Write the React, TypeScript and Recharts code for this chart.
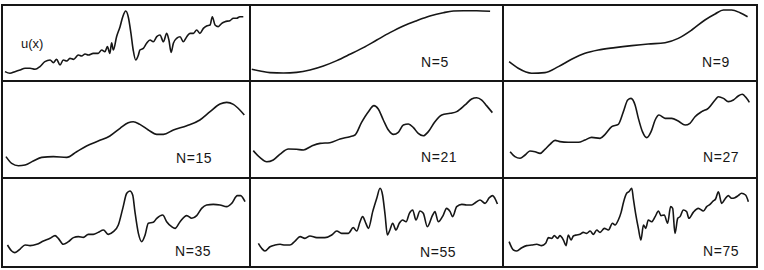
import React from 'react';
import { LineChart, Line, XAxis, YAxis } from 'recharts';

// each curve: [x (0-100 across the domain), u (0-100 within the panel)]
const exactU: [number, number][] = [
  [1.2, 12.3], [3.2, 10.1], [5.2, 12.3], [7.3, 14.5], [9.3, 16.7], [11.3, 16.7], [13.3, 15.4], [15.3, 18.9],
  [17.3, 25.4], [19.4, 27.6], [20.7, 24.1], [22.0, 28.5], [23.4, 21.1], [24.7, 27.6], [26.1, 26.3], [27.4, 29.8],
  [28.8, 28.5], [30.8, 34.2], [32.1, 32.9], [33.5, 35.5], [34.8, 34.2], [36.8, 36.4], [38.8, 36.4], [40.2, 40.8],
  [41.5, 38.6], [42.5, 45.2], [43.5, 36.4], [44.2, 50.4], [44.9, 40.8], [46.2, 58.3], [47.6, 71.5], [48.7, 84.6],
  [49.9, 92.1], [50.9, 84.6], [52.0, 62.7], [52.9, 40.8], [53.9, 27.6], [55.0, 34.2], [55.6, 40.8], [57.0, 43.0],
  [58.3, 49.6], [59.7, 53.9], [61.0, 51.7], [62.4, 58.3], [63.7, 60.5], [65.1, 51.7], [66.4, 62.7], [67.3, 53.9],
  [68.2, 37.7], [69.1, 49.6], [70.4, 56.1], [71.8, 58.3], [73.1, 51.7], [74.5, 58.3], [75.8, 62.7], [77.2, 62.7],
  [78.5, 67.1], [79.8, 62.7], [81.2, 69.3], [82.5, 72.4], [83.9, 73.7], [84.8, 84.6], [85.9, 73.7], [87.2, 71.5],
  [88.6, 75.9], [89.9, 78.1], [91.9, 79.4], [93.3, 82.5], [94.6, 82.5], [95.9, 84.6], [97.3, 84.6],
];

const n5: [number, number][] = [
  [0.7, 15.4], [4.0, 13.2], [7.9, 11.0], [13.2, 10.5], [18.4, 11.4], [23.7, 14.5], [29.0, 19.7], [34.3, 26.8],
  [39.5, 35.1], [44.8, 43.9], [50.1, 53.9], [55.3, 63.6], [60.6, 72.4], [65.9, 79.4], [71.1, 85.5], [76.4, 89.9],
  [80.4, 92.1], [84.3, 92.5], [89.6, 92.5], [94.9, 91.7],
];

const n9: [number, number][] = [
  [2.4, 25.4], [6.0, 16.7], [11.3, 10.1], [16.5, 11.0], [21.8, 18.9], [27.0, 28.5], [32.3, 36.4], [37.5, 40.8],
  [44.1, 43.9], [50.7, 46.5], [57.2, 48.7], [63.8, 50.4], [69.0, 56.1], [74.3, 67.1], [79.5, 80.3], [83.5, 88.2],
  [86.8, 93.4], [90.0, 93.4], [93.3, 89.9], [96.3, 84.6],
];

const n15: [number, number][] = [
  [1.6, 22.0], [3.9, 15.1], [6.6, 12.7], [9.3, 13.4], [12.6, 17.5], [16.0, 21.3], [20.7, 22.0], [26.1, 21.3],
  [30.1, 27.1], [34.1, 33.0], [38.8, 38.1], [43.5, 43.3], [47.6, 51.2], [50.9, 57.0], [52.9, 58.0], [55.6, 55.3],
  [59.0, 49.5], [62.4, 45.0], [65.1, 45.0], [69.1, 49.5], [74.5, 53.9], [79.8, 59.8], [83.9, 68.4], [87.9, 76.3],
  [90.6, 78.0], [93.3, 75.9], [95.9, 70.1], [97.7, 64.9],
];

const n21: [number, number][] = [
  [1.3, 28.2], [4.0, 21.0], [6.6, 16.8], [9.2, 18.6], [11.9, 24.7], [15.2, 29.9], [18.4, 29.6], [21.1, 28.9],
  [24.4, 33.0], [27.7, 35.7], [31.6, 36.4], [35.6, 40.2], [39.5, 42.6], [41.5, 44.3], [44.1, 57.4], [46.8, 68.4],
  [49.0, 74.6], [50.7, 71.1], [52.7, 59.8], [54.7, 49.5], [56.7, 45.0], [58.6, 47.1], [60.6, 54.6], [62.6, 55.7],
  [64.6, 51.9], [66.5, 46.0], [68.5, 43.6], [70.5, 47.8], [73.1, 58.1], [75.8, 64.9], [79.1, 66.7], [81.7, 68.4],
  [85.0, 75.3], [87.6, 81.4], [89.6, 82.8], [91.6, 80.4], [93.5, 74.6], [95.8, 67.4],
];

const n27: [number, number][] = [
  [2.8, 27.1], [4.7, 22.0], [6.7, 20.3], [8.7, 23.7], [10.6, 27.8], [12.6, 27.1], [14.6, 25.4], [16.5, 29.6],
  [18.5, 34.7], [20.5, 38.8], [22.4, 37.5], [25.7, 36.8], [29.7, 36.8], [32.3, 39.2], [34.9, 41.9], [38.2, 40.9],
  [40.2, 45.0], [42.8, 52.9], [45.4, 55.3], [47.4, 68.4], [49.1, 80.4], [50.4, 82.1], [52.0, 75.3], [53.3, 61.5],
  [54.9, 47.8], [56.6, 41.6], [58.3, 47.8], [59.9, 59.8], [61.4, 64.9], [63.8, 61.5], [66.4, 61.5], [69.0, 58.8],
  [71.7, 54.6], [73.6, 56.4], [75.6, 63.2], [78.2, 68.4], [80.8, 71.8], [83.5, 80.4], [84.8, 83.8], [86.8, 82.1],
  [88.7, 78.7], [90.7, 80.4], [92.6, 84.5], [94.2, 86.3], [95.9, 82.1], [97.0, 78.0],
];

const n35: [number, number][] = [
  [2.2, 24.7], [3.9, 18.0], [5.2, 16.1], [7.3, 20.2], [9.3, 24.7], [11.3, 24.0], [14.0, 25.5], [16.7, 29.2],
  [19.4, 32.2], [21.4, 35.2], [22.7, 32.2], [24.7, 25.5], [26.8, 28.5], [28.8, 33.0], [30.8, 34.1], [32.8, 33.3],
  [34.8, 36.7], [36.8, 36.7], [38.8, 38.9], [40.9, 41.6], [42.9, 36.7], [44.9, 39.7], [46.9, 47.2], [48.7, 65.9],
  [50.3, 82.8], [51.6, 85.4], [52.7, 80.9], [53.6, 62.2], [55.0, 37.8], [56.3, 28.5], [57.7, 36.0], [59.0, 49.1],
  [61.0, 50.2], [62.4, 54.7], [64.8, 58.4], [66.4, 50.9], [68.4, 45.3], [69.8, 43.4], [71.8, 50.9], [74.5, 57.7],
  [76.5, 54.7], [78.5, 57.7], [80.5, 65.9], [82.5, 69.7], [85.2, 70.4], [87.9, 69.7], [90.6, 67.8], [92.6, 71.5],
  [94.9, 80.2], [96.2, 80.2], [98.0, 73.4],
];

const n55: [number, number][] = [
  [3.3, 26.6], [4.6, 21.0], [5.9, 18.0], [7.9, 22.8], [9.9, 24.7], [11.9, 25.5], [13.8, 24.7], [15.8, 24.7],
  [17.8, 29.2], [19.8, 34.1], [21.7, 32.2], [23.7, 34.8], [26.4, 33.0], [29.6, 33.0], [32.3, 36.0], [34.3, 40.4],
  [36.2, 37.8], [38.9, 37.8], [40.8, 44.2], [42.2, 40.4], [43.5, 50.9], [44.5, 56.6], [45.8, 49.1], [46.8, 43.4],
  [48.5, 62.2], [50.1, 77.2], [51.4, 88.4], [52.4, 80.9], [53.4, 58.4], [54.3, 36.0], [55.3, 41.6], [56.4, 49.1],
  [57.7, 41.6], [59.0, 49.1], [60.3, 52.8], [61.7, 50.9], [63.0, 60.3], [64.3, 64.0], [65.6, 52.8], [67.2, 62.9],
  [68.5, 60.3], [70.1, 45.3], [72.2, 58.4], [73.1, 62.2], [74.4, 50.9], [76.4, 58.4], [77.7, 65.9], [79.1, 62.2],
  [80.1, 56.6], [81.7, 67.8], [83.7, 70.4], [85.6, 69.7], [87.6, 69.7], [89.3, 72.7], [90.9, 75.3], [92.9, 71.5],
  [94.6, 77.9], [95.9, 80.2], [96.8, 77.2], [97.8, 70.8],
];

const n75: [number, number][] = [
  [2.4, 28.5], [4.1, 19.1], [5.4, 18.0], [7.4, 21.7], [9.3, 24.0], [11.3, 24.7], [13.3, 25.5], [15.2, 24.0],
  [16.8, 26.6], [17.9, 33.0], [19.2, 32.2], [20.2, 35.2], [21.5, 32.2], [22.4, 35.2], [23.8, 30.3], [24.8, 24.0],
  [25.7, 36.0], [26.8, 30.3], [27.7, 34.8], [29.0, 36.0], [30.3, 36.7], [31.6, 38.9], [32.9, 37.8], [34.3, 40.4],
  [35.6, 36.7], [36.9, 41.6], [38.2, 38.9], [39.9, 43.4], [41.5, 41.6], [43.1, 49.1], [44.1, 47.2], [45.4, 52.8],
  [46.5, 61.4], [47.5, 73.4], [48.7, 82.8], [49.6, 84.6], [50.7, 88.4], [51.3, 77.2], [52.2, 60.3], [53.3, 43.4],
  [54.3, 30.3], [55.3, 47.2], [56.2, 43.4], [57.2, 52.8], [58.5, 50.9], [59.9, 56.6], [61.2, 62.9], [62.2, 57.7],
  [63.5, 58.4], [64.8, 49.1], [66.0, 67.8], [66.8, 65.9], [67.7, 37.8], [68.8, 54.7], [69.7, 56.6], [71.0, 64.0],
  [72.3, 62.2], [73.2, 54.7], [74.9, 61.4], [76.9, 65.9], [78.9, 62.9], [80.2, 67.8], [81.5, 70.4], [82.8, 74.2],
  [83.7, 76.4], [84.8, 84.6], [86.1, 71.5], [87.4, 76.4], [88.7, 80.2], [90.0, 77.2], [91.3, 77.9], [92.6, 80.2],
  [93.9, 82.8], [95.5, 80.9], [96.6, 73.4],
];

const curves = [exactU, n5, n9, n15, n21, n27, n35, n55, n75];
const captions = ['u(x)', 'N=5', 'N=9', 'N=15', 'N=21', 'N=27', 'N=35', 'N=55', 'N=75'];

// panel grid edges on the page
const colEdges = [2, 250, 503, 757];
const rowEdges = [5, 81, 178, 267];
// caption top-left corners, per panel
const captionPos = [
  [21, 37], [421, 55], [702, 55],
  [176, 151], [421, 150], [703, 150],
  [175, 244], [420, 245], [703, 244],
];

const ink = '#161616';

const Panel = ({ data, left, top, width, height }: { data: [number, number][], left: number, top: number, width: number, height: number }) => {
  const rows = data.map(([x, u]) => ({ x, u }));
  return (
    <div style={{ position: 'absolute', left, top, width, height }}>
      <LineChart width={width} height={height} data={rows} margin={{ top: 0, right: 0, bottom: 0, left: 0 }}>
        <XAxis type="number" dataKey="x" domain={[0, 100]} hide />
        <YAxis type="number" domain={[0, 100]} hide />
        <Line type="monotone" dataKey="u" stroke={ink} strokeWidth={1.6} dot={false} isAnimationActive={false} />
      </LineChart>
    </div>
  );
};

export default function App() {
  const panels = curves.map((data, i) => {
    const c = i % 3;
    const r = Math.floor(i / 3);
    return (
      <Panel
        key={i}
        data={data}
        left={colEdges[c]}
        top={rowEdges[r]}
        width={colEdges[c + 1] - colEdges[c]}
        height={rowEdges[r + 1] - rowEdges[r]}
      />
    );
  });

  return (
    <div style={{ position: 'absolute', left: 0, top: 0, width: 764, height: 270, background: '#fff', overflow: 'hidden' }}>
      {panels}
      {captions.map((t, i) => (
        <div
          key={t}
          style={{
            position: 'absolute',
            left: captionPos[i][0],
            top: captionPos[i][1],
            fontFamily: 'Arial, "Liberation Sans", sans-serif',
            fontSize: i === 0 ? 13 : 14,
            lineHeight: 1,
            color: ink,
            letterSpacing: i === 0 ? 0 : 0.6,
          }}
        >
          {t}
        </div>
      ))}
      {/* outer frame */}
      <div style={{ position: 'absolute', left: colEdges[0] - 1, top: rowEdges[0] - 1.5, width: colEdges[3] - colEdges[0] + 2, height: 2.5, background: ink }} />
      <div style={{ position: 'absolute', left: colEdges[0] - 1, top: rowEdges[3] - 1, width: colEdges[3] - colEdges[0] + 2, height: 2, background: ink }} />
      <div style={{ position: 'absolute', left: colEdges[0] - 1, top: rowEdges[0] - 1, width: 2, height: rowEdges[3] - rowEdges[0] + 2, background: ink }} />
      <div style={{ position: 'absolute', left: colEdges[3] - 1, top: rowEdges[0] - 1, width: 2, height: rowEdges[3] - rowEdges[0] + 2, background: ink }} />
      {/* inner dividers */}
      {[colEdges[1], colEdges[2]].map((x) => (
        <div key={'v' + x} style={{ position: 'absolute', left: x - 0.75, top: rowEdges[0], width: 1.5, height: rowEdges[3] - rowEdges[0], background: ink }} />
      ))}
      {[rowEdges[1], rowEdges[2]].map((y) => (
        <div key={'h' + y} style={{ position: 'absolute', left: colEdges[0], top: y - 0.75, width: colEdges[3] - colEdges[0], height: 1.5, background: ink }} />
      ))}
    </div>
  );
}
